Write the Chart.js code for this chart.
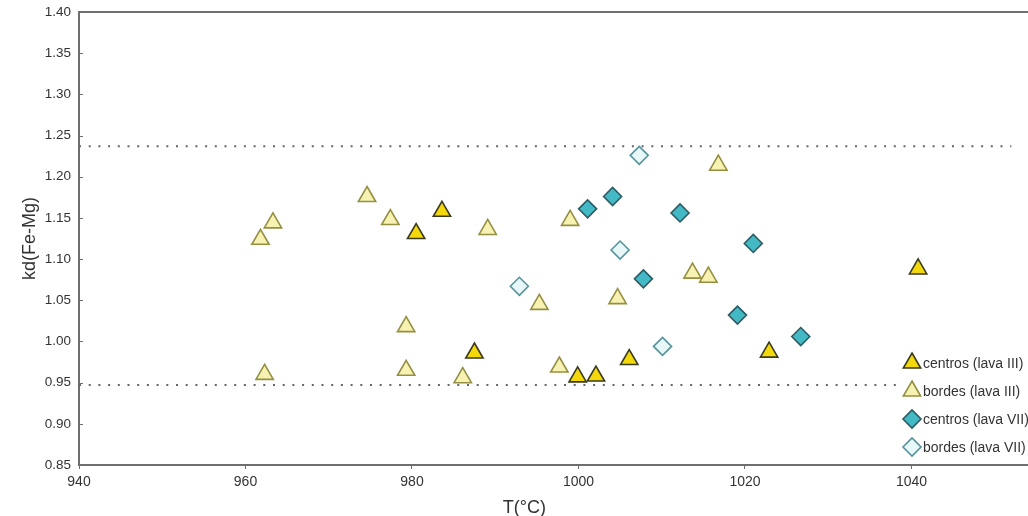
<!DOCTYPE html>
<html>
<head>
<meta charset="utf-8">
<title>kd(Fe-Mg) vs T</title>
<script src="https://cdn.jsdelivr.net/npm/chart.js@4/dist/chart.umd.min.js"></script>
<style>
  html, body { margin: 0; padding: 0; background: #ffffff; overflow: hidden; }
  #wrap { width: 1028px; height: 516px; }
</style>
</head>
<body>
<div id="wrap"><canvas id="chart" width="1028" height="516"></canvas></div>
<script>
// Data: [T (°C), kd(Fe-Mg)]
const centrosIII = [
  [980.5, 1.131], [983.6, 1.158], [987.5, 0.986], [999.9, 0.957],
  [1002.1, 0.958], [1006.1, 0.978], [1022.9, 0.987], [1040.8, 1.088]
];
const bordesIII = [
  [961.8, 1.124], [962.3, 0.960], [963.3, 1.144], [974.6, 1.176],
  [977.4, 1.148], [979.3, 1.018], [979.3, 0.965], [986.1, 0.956],
  [989.1, 1.136], [995.3, 1.045], [997.7, 0.969], [999.0, 1.147],
  [1004.7, 1.052], [1013.7, 1.083], [1015.6, 1.078], [1016.8, 1.214]
];
const centrosVII = [
  [1001.1, 1.161], [1004.1, 1.176], [1007.8, 1.076], [1012.2, 1.156],
  [1019.1, 1.032], [1021.0, 1.119], [1026.7, 1.006]
];
const bordesVII = [
  [992.9, 1.067], [1005.0, 1.111], [1007.3, 1.226], [1010.1, 0.994]
];

// dotted limit lines
const upperLimit = 1.237;
const lowerLimit = 0.947;
const limitXRange = [940, 1052];

// axes
const xMin = 940, xMax = 1054, xStep = 20;
const yMin = 0.85, yMax = 1.40, yStep = 0.05;
const xTitle = 'T(°C)';
const yTitle = 'kd(Fe-Mg)';
const xTitleAt = 993.5;

const labels = ['centros (lava III)', 'bordes (lava III)', 'centros (lava VII)', 'bordes (lava VII)'];

const styles = [
  { pointStyle: 'triangle', radius: 10, fill: '#f3d90c', stroke: '#3b3a1c' },
  { pointStyle: 'triangle', radius: 10, fill: '#f7f2b2', stroke: '#948f42' },
  { pointStyle: 'rectRot', radius: 9, fill: '#43b9c5', stroke: '#2e5b61' },
  { pointStyle: 'rectRot', radius: 9, fill: '#e8f7f8', stroke: '#56939a' }
];

const toXY = arr => arr.map(p => ({ x: p[0], y: p[1] }));
const series = [centrosIII, bordesIII, centrosVII, bordesVII];

const scatterSets = series.map((s, i) => ({
  type: 'scatter',
  label: labels[i],
  data: toXY(s),
  pointStyle: styles[i].pointStyle,
  pointRadius: styles[i].radius,
  pointHoverRadius: styles[i].radius,
  pointBackgroundColor: styles[i].fill,
  pointBorderColor: styles[i].stroke,
  pointBorderWidth: 1.6,
  order: 1
}));

const limitSet = yv => ({
  type: 'line',
  label: 'limit',
  data: limitXRange.map(x => ({ x: x, y: yv })),
  borderColor: '#666666',
  borderWidth: 2,
  borderDash: [2, 7.7],
  pointRadius: 0,
  fill: false,
  order: 5
});

const AXIS_COLOR = '#6e6e6e';
const TEXT_COLOR = '#333333';
const FONT = '"Liberation Sans", Arial, sans-serif';

// top frame line, inward y ticks, x title and the legend inside the plot
const framePlugin = {
  id: 'frame',
  afterDraw(chart) {
    const ctx = chart.ctx;
    const area = chart.chartArea;
    const xs = chart.scales.x;
    const ys = chart.scales.y;

    ctx.save();
    ctx.strokeStyle = AXIS_COLOR;
    ctx.lineWidth = 2;
    ctx.beginPath();
    ctx.moveTo(area.left, area.top);
    ctx.lineTo(area.right, area.top);
    ctx.stroke();

    ctx.lineWidth = 1;
    ys.ticks.forEach(t => {
      const py = Math.round(ys.getPixelForValue(t.value)) + 0.5;
      ctx.beginPath();
      ctx.moveTo(area.left, py);
      ctx.lineTo(area.left + 4, py);
      ctx.stroke();
    });

    ctx.fillStyle = TEXT_COLOR;
    ctx.font = '18px ' + FONT;
    ctx.textAlign = 'center';
    ctx.textBaseline = 'middle';
    ctx.fillText(xTitle, xs.getPixelForValue(xTitleAt), 508);

    // legend
    const lx = area.right - 116;
    const ly = area.bottom - 102;
    ctx.fillStyle = '#ffffff';
    ctx.fillRect(lx - 11, ly - 12, area.right - lx + 11, 108);
    ctx.font = '14px ' + FONT;
    ctx.textAlign = 'left';
    labels.forEach((lab, i) => {
      const y = ly + i * 28;
      const st = styles[i];
      ctx.fillStyle = st.fill;
      ctx.strokeStyle = st.stroke;
      ctx.lineWidth = 1.6;
      Chart.helpers.drawPoint(ctx, {
        pointStyle: st.pointStyle, radius: st.radius, rotation: 0, borderWidth: 1.6
      }, lx, y);
      ctx.fillStyle = TEXT_COLOR;
      ctx.fillText(lab, lx + 11, y + 1);
    });
    ctx.restore();
  }
};

new Chart(document.getElementById('chart'), {
  data: {
    datasets: [limitSet(upperLimit), limitSet(lowerLimit)].concat(scatterSets)
  },
  options: {
    responsive: false,
    animation: false,
    layout: { autoPadding: false, padding: { top: 12, right: 0, left: 0, bottom: 0 } },
    plugins: {
      legend: { display: false },
      tooltip: { enabled: false }
    },
    scales: {
      x: {
        type: 'linear',
        min: xMin,
        max: xMax,
        afterBuildTicks: scale => {
          scale.ticks = scale.ticks.filter(t => Math.abs(t.value % xStep) < 1e-6);
        },
        afterFit: scale => {
          scale.height = 51;
          scale.paddingLeft = 0;
          scale.paddingRight = 0;
        },
        ticks: {
          stepSize: xStep,
          autoSkip: false,
          maxRotation: 0,
          padding: 5,
          color: TEXT_COLOR,
          font: { size: 14, family: FONT },
          callback: v => String(v)
        },
        grid: {
          drawOnChartArea: false,
          drawTicks: true,
          tickLength: 4,
          tickColor: AXIS_COLOR
        },
        border: { display: true, color: AXIS_COLOR, width: 2 },
        title: { display: false }
      },
      y: {
        type: 'linear',
        min: yMin,
        max: yMax,
        afterFit: scale => {
          scale.width = 79;
          scale.paddingTop = 0;
          scale.paddingBottom = 0;
        },
        ticks: {
          stepSize: yStep,
          padding: 8,
          color: TEXT_COLOR,
          font: { size: 13.5, family: FONT },
          callback: v => Number(v).toFixed(2)
        },
        grid: { display: false, drawTicks: false },
        border: { display: true, color: AXIS_COLOR, width: 2 },
        title: {
          display: true,
          text: yTitle,
          color: TEXT_COLOR,
          font: { size: 18, family: FONT, lineHeight: 1 },
          padding: { top: 21, bottom: 0 }
        }
      }
    }
  },
  plugins: [framePlugin]
});
</script>
</body>
</html>
